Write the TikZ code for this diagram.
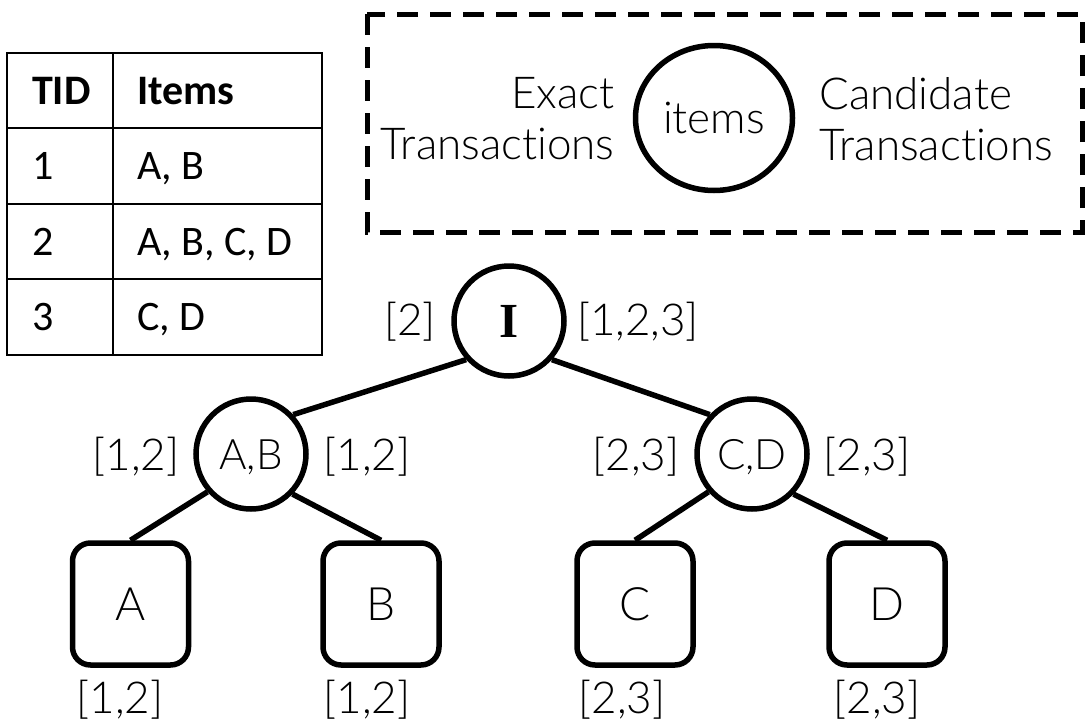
\documentclass[tikz,border=0pt]{standalone}
\usepackage{fontspec}
\setmainfont{Lato}[UprightFont={* Light}, Ligatures={NoCommon,NoContextual}]
\newfontfamily\tabfont{Carlito}
\newfontfamily\romfont{Liberation Serif}
\usetikzlibrary{shapes.geometric}
\begin{document}
\begin{tikzpicture}[x=1pt,y=-1pt,
  every node/.style={inner sep=0pt, font=\fontsize{44}{51}\selectfont},
  setnode/.style={circle, draw, line width=5.5pt, minimum size=110pt,
    text height=30pt, text depth=0pt, font=\fontsize{42}{50}\selectfont},
  keynode/.style={ellipse, draw, line width=5.5pt, minimum width=157pt,
    minimum height=145pt, text height=31pt, text depth=0pt},
  leafbox/.style={rectangle, rounded corners=18pt, draw, line width=5.5pt,
    minimum width=116pt, minimum height=122pt, text height=33pt, text depth=0pt,
    font=\fontsize{46}{50}\selectfont},
  link/.style={line width=5.5pt},
  grid/.style={line width=2.2pt},
  cell/.style={font=\tabfont\fontsize{42}{48}\selectfont, anchor=base west},
  headcell/.style={cell, font=\tabfont\bfseries\fontsize{42}{48}\selectfont},
]
\useasboundingbox (0,0) rectangle (1087,726);

% transaction table
\draw[grid] (7,53) rectangle (322,355);
\draw[grid] (113,53) -- (113,355);
\foreach \y in {128,204,279} \draw[grid] (7,\y) -- (322,\y);
\node[headcell] (hTID) at (32,104) {TID};
\node[headcell] (hItems) at (137,104) {Items};
\node[cell] (t1) at (32,179.5) {1};
\node[cell] (i1) at (137,179.5) {A, B};
\node[cell] (t2) at (32,255) {2};
\node[cell] (i2) at (137,255) {A, B, C, D};
\node[cell] (t3) at (32,330.5) {3};
\node[cell] (i3) at (137,330.5) {C, D};

% legend
\draw[line width=5pt, dash pattern=on 21pt off 12pt] (367,14) rectangle (1082,232);
\node[keynode] (key) at (714,118) {items};
\node[anchor=east, align=right] (exact) at ([xshift=-18pt,yshift=-1pt]key.west) {Exact\\Transactions};
\node[anchor=west, align=left] (cand) at ([xshift=24pt,yshift=-1pt]key.east) {Candidate\\Transactions};

% tree nodes
\node[setnode, text height=32pt, font=\romfont\bfseries\fontsize{49}{52}\selectfont] (root) at (509,321) {I};
\node[setnode] (ab) at (251,454) {A,B};
\node[setnode] (cd) at (752,454) {C,D};
\node[leafbox] (a) at (130.5,604) {A};
\node[leafbox] (b) at (381,604) {B};
\node[leafbox] (c) at (635,604) {C};
\node[leafbox] (d) at (887,604) {D};

% tree edges
\draw[link] (root.222) -- (ab.43);
\draw[link] (root.318) -- (cd.137);
\draw[link] (ab.221) -- (a.north);
\draw[link] (ab.316) -- (b.north);
\draw[link] (cd.221) -- (c.north);
\draw[link] (cd.316) -- (d.north);

% transaction lists
\node (rootL) at (410,322) {[2]};
\node (rootR) at (638,322) {[1,2,3]};
\node (abL) at (136,457) {[1,2]};
\node (abR) at (367,457) {[1,2]};
\node (cdL) at (636,457) {[2,3]};
\node (cdR) at (867,457) {[2,3]};
\node (aL) at (120,700) {[1,2]};
\node (bL) at (367,700) {[1,2]};
\node (cL) at (622,700) {[2,3]};
\node (dL) at (877,700) {[2,3]};
\end{tikzpicture}
\end{document}
